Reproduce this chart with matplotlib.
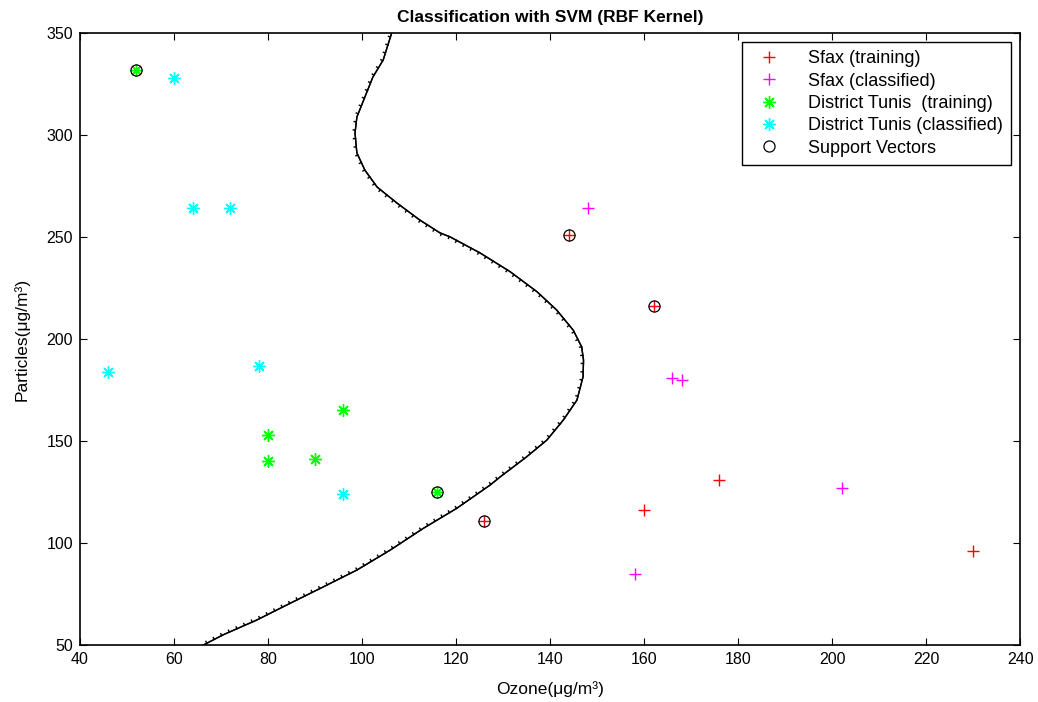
import matplotlib
matplotlib.use("Agg")
import matplotlib.pyplot as plt
import matplotlib.patheffects as pe

plt.rcParams['font.family'] = ['Liberation Sans', 'DejaVu Sans']

# Sfax (training), ozone / particles
sfax_train_x = [144, 162, 126, 160, 176, 230]
sfax_train_y = [251, 216, 111, 116, 131, 96]
# Sfax (classified)
sfax_cls_x = [148, 166, 168, 202, 158]
sfax_cls_y = [264, 181, 180, 127, 85]
# District Tunis (training)
tunis_train_x = [52, 80, 80, 90, 96, 116]
tunis_train_y = [332, 153, 140, 141, 165, 125]
# District Tunis (classified)
tunis_cls_x = [60, 64, 72, 46, 78, 96]
tunis_cls_y = [328, 264, 264, 184, 187, 124]
# support vectors
sv_x = [52, 116, 144, 162, 126]
sv_y = [332, 125, 251, 216, 111]

# decision boundary
bound_x = [106.3, 104.5, 102.3, 100.6, 98.9, 98.5, 98.9, 100.6, 103.2, 107.4,
           112.3, 116.6, 118.7, 125.1, 131.5, 137.2, 141.4, 144.9, 146.7, 147.1,
           147.0, 145.7, 142.8, 139.3, 135.0, 129.4, 127.2, 120.1, 113.0, 106.0,
           98.9, 91.8, 84.7, 77.6, 70.5, 66.2]
bound_y = [350, 336.8, 328.4, 318.6, 308.8, 301.0, 291.2, 282.8, 274.5, 266.7,
           258.3, 252.0, 250.1, 242.2, 233.0, 223.2, 214.2, 204.4, 196.2, 189.7,
           181.5, 170.1, 160.3, 150.5, 142.3, 132.5, 128.4, 117.0, 107.2, 96.6,
           86.8, 78.6, 70.5, 62.3, 55.1, 50.0]

fig = plt.figure(figsize=(10.38, 7.02), dpi=100)
ax = fig.add_axes([0.077, 0.081, 0.906, 0.872])

star = (8, 2, 0)  # matlab-like asterisk
ax.plot(sfax_train_x, sfax_train_y, '+', color='red', ms=9, mew=1,
        label='Sfax (training)')
ax.plot(sfax_cls_x, sfax_cls_y, '+', color='magenta', ms=9, mew=1,
        label='Sfax (classified)')
ax.plot(tunis_train_x, tunis_train_y, marker=star, ls='none', color='#00ff00',
        ms=9, mew=1, label='District Tunis  (training)')
ax.plot(tunis_cls_x, tunis_cls_y, marker=star, ls='none', color='cyan',
        ms=9, mew=1, label='District Tunis (classified)')
ax.plot(sv_x, sv_y, 'o', mfc='none', mec='black', ms=8, mew=0.9,
        label='Support Vectors')
ax.plot(bound_x, bound_y, color='black', lw=1,
        path_effects=[pe.withTickedStroke(angle=-90, length=0.25, spacing=6),
                      pe.Normal()])

ax.set_xlim(40, 240)
ax.set_ylim(50, 350)
ax.set_xticks(range(40, 241, 20))
ax.set_yticks(range(50, 351, 50))
ax.tick_params(direction='in', top=True, right=True, labelsize=11.5,
               length=5, pad=5)
for s in ax.spines.values():
    s.set_linewidth(1.2)

ax.set_title('Classification with SVM (RBF Kernel)', fontsize=12.5,
             fontweight='bold', pad=8)
ax.set_xlabel('Ozone(μg/m³)', fontsize=12.5, labelpad=10)
ax.set_ylabel('Particles(μg/m³)', fontsize=12.5, labelpad=12)

leg = ax.legend(loc='upper right', fontsize=13, fancybox=False,
                edgecolor='black', framealpha=1, borderaxespad=0.5,
                handlelength=2, handletextpad=1.2, borderpad=0.45,
                labelspacing=0.3)
leg.get_frame().set_linewidth(1)

fig.savefig('out.png', dpi=100)
